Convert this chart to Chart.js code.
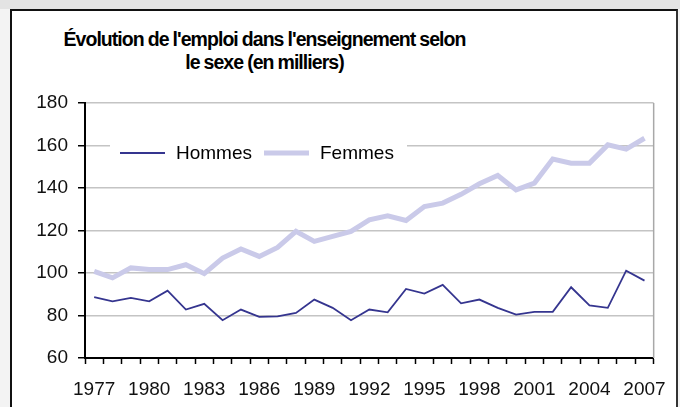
<!DOCTYPE html>
<html>
<head>
<meta charset="utf-8">
<script src="https://cdn.jsdelivr.net/npm/chart.js@4"></script>
<style>
  html, body { margin: 0; padding: 0; }
  body { width: 680px; height: 407px; background: #f3f3f3; position: relative; overflow: hidden; font-family: "Liberation Sans", Arial, sans-serif; }
  #band { position: absolute; left: 0; top: 0; width: 680px; height: 9px; background: #e3e3e3; }
  #frame { position: absolute; left: 10px; top: 9px; width: 664px; height: 420px; background: #fff; border: 2px solid #111; border-right-color: #333; }
  #title { position: absolute; left: 0; top: 28px; width: 529px; text-align: center; font-weight: bold; font-size: 19.5px; line-height: 23px; letter-spacing: -0.95px; word-spacing: -0.5px; color: #000; }
  #wrap { position: absolute; left: 0; top: 0; width: 680px; height: 407px; }
</style>
</head>
<body>
<div id="band"></div>
<div id="frame"></div>
<div id="title">Évolution de l'emploi dans l'enseignement selon<br>le sexe (en milliers)</div>
<div id="wrap"><canvas id="chart"></canvas></div>
<script>
const years = [];
for (let y = 1977; y <= 2007; y++) years.push(String(y));

const hommes = [88.6, 86.7, 88.3, 86.7, 91.7, 82.8, 85.5, 77.8, 82.8, 79.4,
                79.6, 81.2, 87.5, 83.6, 77.8, 82.8, 81.5, 92.5, 90.3, 94.4,
                85.7, 87.5, 83.6, 80.4, 81.7, 81.7, 93.3, 84.7, 83.6, 101.1, 96.4];
const femmes = [100.8, 97.7, 102.4, 101.6, 101.6, 103.9, 99.7, 107, 111.3, 107.8,
                112, 119.6, 114.9, 117.2, 119.6, 125, 126.9, 124.7, 131.3, 132.9,
                137, 142, 145.9, 139.1, 142.3, 153.6, 151.7, 151.7, 160.3, 158.3, 163.4];

const yMin = 60, yMax = 180, yStep = 20;
const labelEvery = 3;

// gray right edge of the plot + legend box drawn inside the plot
const framePlugin = {
    id: 'frame',
    beforeDatasetsDraw(chart) {
        const { ctx, chartArea: a } = chart;
        ctx.save();
        ctx.strokeStyle = '#a8a8a8';
        ctx.lineWidth = 1.5;
        ctx.beginPath();
        ctx.moveTo(a.right, a.top);
        ctx.lineTo(a.right, a.bottom);
        ctx.stroke();

        // legend
        const lx = a.left + 25, ly = a.top + 50;
        ctx.fillStyle = '#fff';
        ctx.fillRect(lx, ly - 12, 297, 25);
        ctx.font = '19px "Liberation Sans", Arial, sans-serif';
        ctx.textBaseline = 'middle';
        let x = lx + 10;
        chart.data.datasets.forEach(ds => {
            ctx.strokeStyle = ds.borderColor;
            ctx.lineWidth = ds.borderWidth;
            ctx.beginPath();
            ctx.moveTo(x, ly);
            ctx.lineTo(x + 45, ly);
            ctx.stroke();
            ctx.fillStyle = '#000';
            ctx.fillText(ds.label, x + 56, ly + 1);
            x += 56 + ctx.measureText(ds.label).width + 12;
        });
        ctx.restore();
    }
};

new Chart(document.getElementById('chart'), {
    type: 'line',
    data: {
        labels: years,
        datasets: [
            { label: 'Hommes', data: hommes, borderColor: '#35358f', borderWidth: 1.8 },
            { label: 'Femmes', data: femmes, borderColor: '#cacae9', borderWidth: 5 }
        ]
    },
    options: {
        responsive: true,
        maintainAspectRatio: false,
        animation: false,
        layout: { padding: { left: 36, right: 23, top: 103, bottom: 7 } },
        elements: { point: { radius: 0 }, line: { tension: 0 } },
        plugins: {
            legend: { display: false },
            title: { display: false },
            tooltip: { enabled: false }
        },
        scales: {
            x: {
                offset: true,
                grid: { offset: true, drawOnChartArea: false, tickLength: 6, tickColor: '#000', tickWidth: 1.5 },
                border: { color: '#000', width: 2 },
                ticks: {
                    autoSkip: false, maxRotation: 0, padding: 14, color: '#111',
                    font: { size: 19, family: '"Liberation Sans", Arial, sans-serif' },
                    callback: (v, i) => i % labelEvery === 0 ? years[i] : ''
                },
                afterFit(scale) { scale.height = 42; }
            },
            y: {
                min: yMin, max: yMax,
                grid: { color: '#c4c4c4', lineWidth: 1.5, tickLength: 7, tickColor: '#000', tickWidth: 1.5 },
                border: { color: '#000', width: 2 },
                ticks: {
                    stepSize: yStep, padding: 10, color: '#111',
                    font: { size: 19, family: '"Liberation Sans", Arial, sans-serif' }
                },
                afterFit(scale) { scale.width = 49; }
            }
        }
    },
    plugins: [framePlugin]
});
</script>
</body>
</html>
